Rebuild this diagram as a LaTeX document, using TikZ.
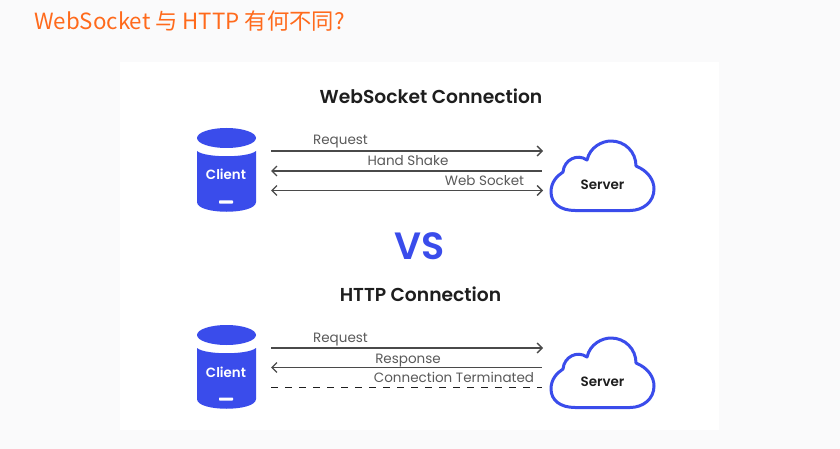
\documentclass[tikz,border=0pt]{standalone}
\usepackage{fontspec}
\setmainfont{Poppins}[BoldFont={Poppins SemiBold}]
\newfontfamily\titlefont{Noto Sans CJK SC}
\usetikzlibrary{arrows.meta}
\definecolor{pagebg}{HTML}{FAFAFB}
\definecolor{titleorange}{HTML}{FF6A1C}
\definecolor{brandblue}{HTML}{3A4CEB}
\definecolor{linegray}{HTML}{4A4A4A}
\definecolor{labelgray}{HTML}{5A5A5A}
\definecolor{headblack}{HTML}{1E1E1E}
\tikzset{
  x=1pt,y=-1pt,
  conn/.style={draw=linegray,line width=1.4pt},
  tip/.style={-{Straight Barb[length=5pt,width=10pt,line width=1.4pt]}},
  tipback/.style={{Straight Barb[length=5pt,width=10pt,line width=1.4pt]}-},
  tipboth/.style={{Straight Barb[length=5pt,width=10pt,line width=1.4pt]}-{Straight Barb[length=5pt,width=10pt,line width=1.4pt]}},
  lbl/.style={text=labelgray,font=\fontsize{13.5}{15}\selectfont,inner sep=0pt,anchor=base},
  head/.style={text=headblack,font=\fontsize{18.7}{20}\selectfont\bfseries,inner sep=0pt,anchor=base},
  clientlbl/.style={text=white,font=\fontsize{13.4}{15}\selectfont\bfseries,inner sep=0pt,anchor=base},
  serverlbl/.style={text=headblack,font=\fontsize{13.5}{15}\selectfont\bfseries,inner sep=0pt,anchor=base},
  cloudline/.style={draw=brandblue,line width=3pt,fill=white,line join=round},
}
\newcommand{\cylshape}[1]{%
  \fill[brandblue] (197,{#1+23}) .. controls (205,{#1+30}) and (248,{#1+30}) .. (256,{#1+23})
    -- (256,{#1+74}) .. controls (256,{#1+87}) and (197,{#1+87}) .. (197,{#1+74}) -- cycle;
  \fill[brandblue] (226.5,{#1+10}) ellipse [x radius=29.5,y radius=10];
  \fill[white,rounded corners=0.7pt] (219,{#1+72.5}) rectangle (233,{#1+75.5});
}
\newcommand{\cloudshape}[1]{%
  \path[cloudline] (575,{#1+70.5})
    .. controls (560,{#1+70.5}) and (551,{#1+63}) .. (551,{#1+52})
    .. controls (551,{#1+42}) and (557,{#1+36}) .. (563,{#1+32})
    .. controls (564,{#1+20}) and (577,{#1+13}) .. (587,{#1+20})
    .. controls (590,{#1+7}) and (602,{#1+1}) .. (611,{#1+1})
    .. controls (625,{#1+1}) and (636,{#1+12}) .. (636,{#1+26})
    .. controls (648,{#1+31}) and (654,{#1+40}) .. (654,{#1+49})
    .. controls (654,{#1+62}) and (643,{#1+70.5}) .. (630,{#1+70.5})
    -- cycle;
}
\begin{document}
\begin{tikzpicture}
\useasboundingbox (0,0) rectangle (840,449);
\fill[pagebg] (0,0) rectangle (840,449);
\fill[white] (120,62) rectangle (719,430);
\node[anchor=west,inner sep=0pt,text=titleorange,font=\titlefont\fontsize{22.3}{26}\selectfont] (title) at (34,21) {WebSocket 与 HTTP 有何不同?};

\node[head] (h1) at (431,104) {WebSocket Connection};
\node[text=brandblue,font=\fontsize{38}{40}\selectfont\bfseries,inner sep=0pt] (vs) at (420,246) {VS};
\node[head] (h2) at (420.5,301) {HTTP Connection};

% upper row
\cylshape{128}
\cloudshape{140}
\node[clientlbl] (c1) at (226,180) {Client};
\node[serverlbl] (s1) at (602.5,189.5) {Server};
\coordinate (a1) at (271,151); \coordinate (b1) at (543,151);
\coordinate (a2) at (271,171); \coordinate (b2) at (542,171);
\coordinate (a3) at (271,190.5); \coordinate (b3) at (543,190.5);
\draw[conn,tip] (a1) -- (b1);
\draw[conn,tipback] (a2) -- (b2);
\draw[conn,tipboth] (a3) -- (b3);
\node[lbl] (l1) at (340.5,145) {Request};
\node[lbl] (l2) at (408,166) {Hand Shake};
\node[lbl] (l3) at (484.5,185.5) {Web Socket};

% lower row
\cylshape{325}
\cloudshape{337}
\node[clientlbl] (c2) at (226,377) {Client};
\node[serverlbl] (s2) at (602.5,386.5) {Server};
\coordinate (a4) at (271,348); \coordinate (b4) at (543,348);
\coordinate (a5) at (271,367.5); \coordinate (b5) at (542,367.5);
\coordinate (a6) at (271,387.5); \coordinate (b6) at (542,387.5);
\draw[conn,tip] (a4) -- (b4);
\draw[conn,tipback] (a5) -- (b5);
\draw[draw=headblack,line width=1.1pt,dash pattern=on 7pt off 7pt] (a6) -- (b6);
\node[lbl] (l4) at (340.5,342) {Request};
\node[lbl] (l5) at (408,363) {Response};
\node[lbl] (l6) at (454,382.5) {Connection Terminated};
\end{tikzpicture}
\end{document}
